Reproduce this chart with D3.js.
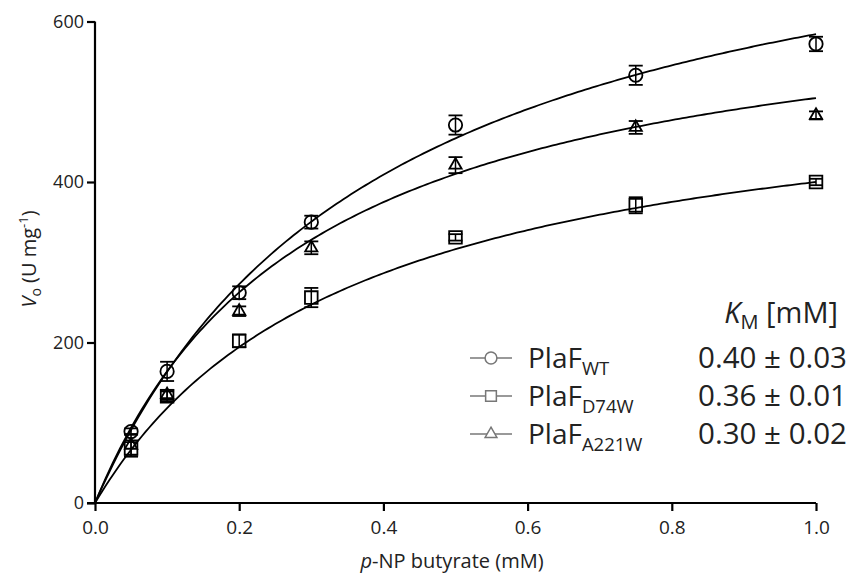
<!DOCTYPE html>
<html>
<head>
<meta charset="utf-8">
<script src="https://cdn.jsdelivr.net/npm/d3@7"></script>
<style>
  html, body { margin: 0; padding: 0; background: #fff; }
  svg { display: block; font-family: "Open Sans", sans-serif; }
</style>
</head>
<body>
<svg id="chart" width="852" height="576"></svg>
<script>
// Substrate concentrations (mM)
const substrate = [0.05, 0.1, 0.2, 0.3, 0.5, 0.75, 1.0];

// Initial velocities (U mg-1), mean and error
const wtMean   = [89, 164, 262, 350, 471, 533, 572];
const wtErr    = [4, 12, 8, 8, 12, 12, 9];
const d74Mean  = [68, 133, 202, 256, 331, 371, 400];
const d74Err   = [10, 6, 8, 12, 4, 10, 4];
const a221Mean = [72, 135, 239, 318, 421, 468, 483];
const a221Err  = [14, 6, 6, 8, 10, 8, 5];

// Michaelis–Menten fit parameters
const kmValues   = [0.40, 0.36, 0.30];
const kmErrors   = [0.03, 0.01, 0.02];
const vmaxValues = [818, 544, 656];

const seriesNames = ["WT", "D74W", "A221W"];
const seriesShapes = ["circle", "square", "triangle"];

const xTicks = [0, 0.2, 0.4, 0.6, 0.8, 1.0];
const yTicks = [0, 200, 400, 600];

const svg = d3.select("#chart");
const x = d3.scaleLinear().domain([0, 1]).range([95, 816]);
const y = d3.scaleLinear().domain([0, 600]).range([503, 21.5]);

const series = [
  { name: seriesNames[0], shape: seriesShapes[0], mean: wtMean,   err: wtErr,   km: kmValues[0], kmErr: kmErrors[0], vmax: vmaxValues[0] },
  { name: seriesNames[1], shape: seriesShapes[1], mean: d74Mean,  err: d74Err,  km: kmValues[1], kmErr: kmErrors[1], vmax: vmaxValues[1] },
  { name: seriesNames[2], shape: seriesShapes[2], mean: a221Mean, err: a221Err, km: kmValues[2], kmErr: kmErrors[2], vmax: vmaxValues[2] }
];

function symbolPath(shape, size) {
  const t = { circle: d3.symbolCircle, square: d3.symbolSquare, triangle: d3.symbolTriangle }[shape];
  return d3.symbol().type(t).size(size)();
}
const symSize = { circle: 140, square: 160, triangle: 65 };
const legendSymSize = { circle: 110, square: 115, triangle: 60 };

// Axes
const xAxis = d3.axisBottom(x).tickValues(xTicks).tickFormat(d3.format(".1f")).tickSizeOuter(0).tickSize(8).tickPadding(10);
const yAxis = d3.axisLeft(y).tickValues(yTicks).tickFormat(d3.format("d")).tickSizeOuter(0).tickSize(8).tickPadding(3);

const gx = svg.append("g").attr("transform", `translate(0,${y(0)})`).call(xAxis);
const gy = svg.append("g").attr("transform", `translate(${x(0)},0)`).call(yAxis);
[gx, gy].forEach(g => {
  g.select(".domain").attr("stroke", "#000").attr("stroke-width", 2.2);
  g.selectAll(".tick line").attr("stroke", "#000").attr("stroke-width", 2.2);
  g.selectAll(".tick text").attr("fill", "#222").attr("font-family", "Open Sans, sans-serif");
});
gx.selectAll(".tick text").attr("font-size", 19);
gy.selectAll(".tick text").attr("font-size", 18);
gy.select(".domain").attr("d", `M0,${y(0)}V${y(600)}`);
gx.select(".domain").attr("d", `M${x(0) - 8},0H${x(1)}`);

// Axis titles
svg.append("text")
  .attr("x", 452).attr("y", 568)
  .attr("text-anchor", "middle").attr("font-size", 20).attr("fill", "#222")
  .html('<tspan font-style="italic">p</tspan>-NP butyrate (mM)');

const yl = svg.append("text")
  .attr("transform", "translate(36,259) rotate(-90)")
  .attr("text-anchor", "middle").attr("font-size", 20).attr("fill", "#222");
yl.append("tspan").attr("font-style", "italic").text("V");
yl.append("tspan").attr("font-size", 14).attr("dy", 5).text("o");
yl.append("tspan").attr("dy", -5).text(" (U mg");
yl.append("tspan").attr("font-size", 13).attr("dy", -8).text("-1");
yl.append("tspan").attr("dy", 8).text(")");

// Fitted curves
const curveX = d3.range(0, 1.0001, 0.005);
const line = d3.line().x(d => x(d[0])).y(d => y(d[1]));
series.forEach(s => {
  svg.append("path")
    .attr("d", line(curveX.map(S => [S, s.vmax * S / (s.km + S)])))
    .attr("fill", "none").attr("stroke", "#000").attr("stroke-width", 1.8);
});

// Data points with error bars
series.forEach(s => {
  const g = svg.append("g");
  substrate.forEach((S, i) => {
    const cx = x(S), m = s.mean[i], e = s.err[i];
    const y1 = y(m + e), y2 = y(m - e);
    g.append("line").attr("x1", cx).attr("x2", cx).attr("y1", y1).attr("y2", y2)
      .attr("stroke", "#000").attr("stroke-width", 1.5);
    [y1, y2].forEach(yy => g.append("line")
      .attr("x1", cx - 7).attr("x2", cx + 7).attr("y1", yy).attr("y2", yy)
      .attr("stroke", "#000").attr("stroke-width", 1.8));
    g.append("path")
      .attr("d", symbolPath(s.shape, symSize[s.shape]))
      .attr("transform", `translate(${cx},${y(m)})`)
      .attr("fill", "none").attr("stroke", "#000").attr("stroke-width", 1.8);
  });
});

// Legend with KM values
svg.append("text")
  .attr("x", 838).attr("y", 323).attr("text-anchor", "end")
  .attr("font-size", 29).attr("fill", "#222")
  .html('<tspan font-style="italic">K</tspan><tspan font-size="20" dy="6">M</tspan><tspan dy="-6"> [mM]</tspan>');

const legendRowY = [368, 406, 444];
series.forEach((s, i) => {
  const cy = legendRowY[i] - 10;
  const lg = svg.append("g");
  lg.append("line").attr("x1", 470).attr("x2", 512).attr("y1", cy).attr("y2", cy)
    .attr("stroke", "#777").attr("stroke-width", 1.5);
  lg.append("path")
    .attr("d", symbolPath(s.shape, legendSymSize[s.shape]))
    .attr("transform", `translate(491,${cy})`)
    .attr("fill", "#fff").attr("stroke", "#777").attr("stroke-width", 1.5);
  const t = lg.append("text").attr("x", 528).attr("y", legendRowY[i])
    .attr("font-size", 28).attr("fill", "#222");
  t.append("tspan").text("PlaF");
  t.append("tspan").attr("font-size", 18.5).attr("dy", 7).text(s.name);
  lg.append("text").attr("x", 847).attr("y", legendRowY[i]).attr("text-anchor", "end")
    .attr("font-size", 29.5).attr("fill", "#222")
    .text(`${s.km.toFixed(2)} ± ${s.kmErr.toFixed(2)}`);
});
</script>
</body>
</html>
